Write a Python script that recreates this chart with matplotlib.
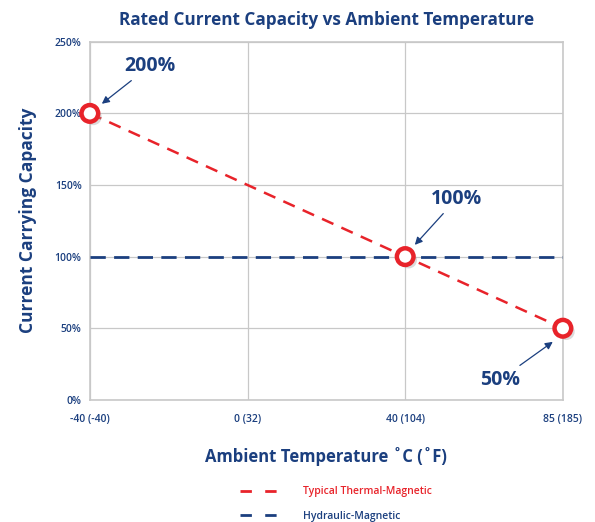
import matplotlib
matplotlib.use("Agg")
import matplotlib.pyplot as plt
from matplotlib import patheffects as pe
from matplotlib.lines import Line2D

# --- data ---
temp_labels = ["-40 (-40)", "0 (32)", "40 (104)", "85 (185)"]
thermal_magnetic = [200, 150, 100, 50]
hydraulic_magnetic = [100, 100, 100, 100]
marked_idx = [0, 2, 3]
y_ticks = [0, 50, 100, 150, 200, 250]

NAVY = "#1b3f7f"
RED = "#e8232a"
GRID = "#c8c8c8"

plt.rcParams['font.family'] = ['Open Sans', 'DejaVu Sans']

fig = plt.figure(figsize=(5.95, 5.22), dpi=100)
ax = fig.add_axes([0.151, 0.234, 0.795, 0.686])

x = list(range(len(temp_labels)))
ax.plot(x, hydraulic_magnetic, color=NAVY, lw=2.0, dashes=(5.5, 3), zorder=3)
ax.plot(x, thermal_magnetic, color=RED, lw=1.8, dashes=(5, 3.5), zorder=4)
# ringed markers with a soft shadow
ax.plot([x[i] for i in marked_idx], [thermal_magnetic[i] for i in marked_idx],
        ls="none", marker="o", ms=12, mfc="white", mec=RED, mew=3.2, zorder=5,
        clip_on=False,
        path_effects=[pe.SimplePatchShadow(offset=(2.5, -2.5), shadow_rgbFace="#999999", alpha=0.35),
                      pe.Normal()])

ax.set_xlim(0, 3)
ax.set_ylim(0, 250)
ax.set_xticks(x)
ax.set_xticklabels(temp_labels)
ax.set_yticks(y_ticks)
ax.set_yticklabels([f"{v}%" for v in y_ticks])
ax.tick_params(length=0, labelsize=7.5, labelcolor=NAVY, pad=6)
ax.tick_params(axis="x", pad=10)
for lab in ax.get_xticklabels() + ax.get_yticklabels():
    lab.set_fontweight("semibold")
ax.grid(True, color=GRID, lw=0.9)
ax.set_axisbelow(True)
for s in ax.spines.values():
    s.set_color(GRID)
    s.set_linewidth(1.2)

ax.set_title("Rated Current Capacity vs Ambient Temperature", color=NAVY,
             fontsize=12.3, fontweight="bold", pad=12)
ax.set_ylabel("Current Carrying Capacity", color=NAVY, fontsize=12.5,
              fontweight="bold", labelpad=13)
ax.set_xlabel("Ambient Temperature \u02daC (\u02daF)", color=NAVY, fontsize=12,
              fontweight="bold", labelpad=16)

arrow = dict(arrowstyle="-|>", color=NAVY, lw=0.9, mutation_scale=11, shrinkA=2, shrinkB=0)
ax.annotate("200%", xy=(0.076, 206.7), xytext=(0.38, 233), ha="center", va="center",
            fontsize=14, fontweight="bold", color=NAVY, arrowprops=arrow, annotation_clip=False)
ax.annotate("100%", xy=(2.061, 108.2), xytext=(2.327, 140.4), ha="center", va="center",
            fontsize=14, fontweight="bold", color=NAVY, arrowprops=arrow)
ax.annotate("50%", xy=(2.936, 40.5), xytext=(2.60, 14), ha="center", va="center",
            fontsize=14, fontweight="bold", color=NAVY, arrowprops=arrow)

# legend proxies: three even dashes each, as in the reference
handles = [Line2D([], [], color=RED, lw=2, dashes=(4.1, 4.8)),
           Line2D([], [], color=NAVY, lw=2, dashes=(4.1, 4.8))]
labels = ["Typical Thermal-Magnetic", "Hydraulic-Magnetic"]
leg = fig.legend(handles, labels, loc="center",
                 bbox_to_anchor=(0.565, 0.034), frameon=False, fontsize=7.5,
                 handlelength=4.55, handletextpad=1.45, labelspacing=1.3,
                 labelcolor=[RED, NAVY])
for t in leg.get_texts():
    t.set_fontweight("semibold")

fig.savefig("out.png", dpi=100)
